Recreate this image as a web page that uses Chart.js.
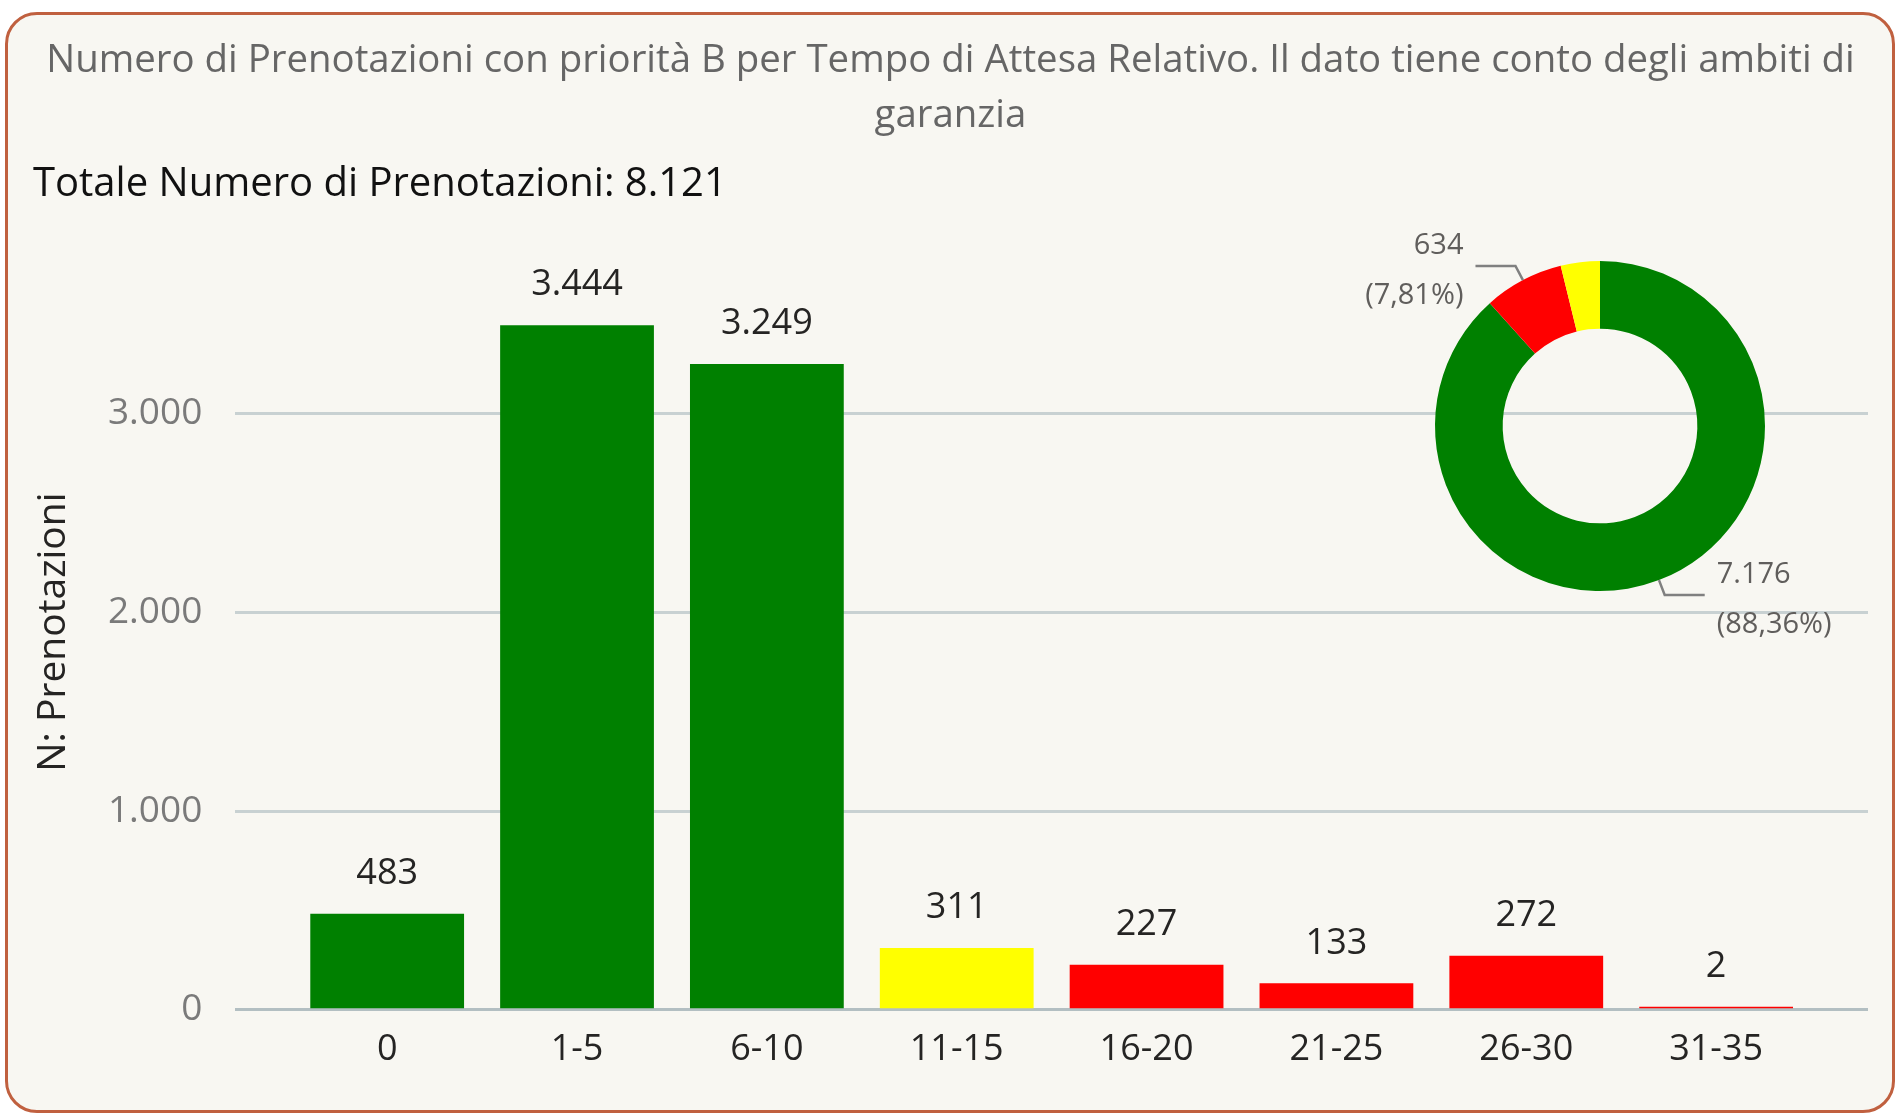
<!DOCTYPE html>
<html><head><meta charset="utf-8">
<script src="https://cdn.jsdelivr.net/npm/chart.js@4/dist/chart.umd.min.js"></script>
<style>
html,body{margin:0;padding:0;background:#fff;width:1901px;height:1113px;overflow:hidden}
#card{position:absolute;left:5px;top:12px;width:1884px;height:1095px;border:3px solid #c0603f;border-radius:32px;background:#f8f7f2;}
#bar{position:absolute;left:0;top:0;}
#donut{position:absolute;left:1335px;top:190px;}
</style></head><body>
<div id="card"></div>
<canvas id="bar" width="1901" height="1113"></canvas>
<canvas id="donut" width="530" height="470"></canvas>
<script>
// ---- data ----
const categories = ['0','1-5','6-10','11-15','16-20','21-25','26-30','31-35'];
const values = [483, 3444, 3249, 311, 227, 133, 272, 2];
const yTicks = [0, 1000, 2000, 3000];
const donutValues = [7176, 634, 311];
const donutShowLabel = [true, true, false];
const titleLines = ['Numero di Prenotazioni con priorità B per Tempo di Attesa Relativo. Il dato tiene conto degli ambiti di', 'garanzia'];
const yTitle = 'N: Prenotazioni';

// ---- styles ----
const GREEN = '#008000', YELLOW = '#ffff00', RED = '#ff0000';
const barColors = [GREEN, GREEN, GREEN, YELLOW, RED, RED, RED, RED];
const donutColors = [GREEN, RED, YELLOW];
const FONT = '"Segoe UI", "Open Sans", sans-serif';

function fmt(n){ return String(n).replace(/\B(?=(\d{3})+(?!\d))/g, '.'); }
const total = values.reduce((a,b)=>a+b,0);

const barLabels = {
  id:'barLabels',
  afterDatasetsDraw(chart){
    const ctx = chart.ctx, meta = chart.getDatasetMeta(0);
    ctx.save();
    ctx.font = '36px ' + FONT;
    ctx.fillStyle = '#252423';
    ctx.textAlign = 'center';
    ctx.textBaseline = 'middle';
    meta.data.forEach((el,i)=>{ ctx.fillText(fmt(values[i]), el.x, el.y - 40); });
    ctx.restore();
  }
};

new Chart(document.getElementById('bar'), {
  type: 'bar',
  data: {
    datasets: [{
      data: values.map((v,i)=>({x:i, y:v})),
      backgroundColor: barColors,
      borderWidth: 0,
      barPercentage: 0.81,
      categoryPercentage: 1.0,
      minBarLength: 3
    }]
  },
  options: {
    responsive: false,
    animation: false,
    layout: { padding: { left: 33, right: 33, top: 0, bottom: 32 } },
    plugins: {
      legend: { display: false },
      tooltip: { enabled: false },
      title: {
        display: true, text: titleLines, color: '#666666',
        font: { family: FONT, size: 38.4, weight: 'normal', lineHeight: 1.45 },
        padding: { top: 33, bottom: 12 }
      },
      subtitle: {
        display: true, text: 'Totale Numero di Prenotazioni: ' + fmt(total), align: 'start',
        color: '#111111',
        font: { family: FONT, size: 40, weight: 'normal', lineHeight: 1.4 },
        padding: { top: 0, bottom: 42 }
      }
    },
    scales: {
      x: {
        type: 'linear', min: -0.8, max: 7.8, offset: false,
        grid: { display: false }, border: { display: false },
        afterBuildTicks: a => { a.ticks = categories.map((_,i)=>({value:i})); },
        ticks: { autoSkip: false, callback: v => categories[v] ?? '', color: '#252423',
                 font: { family: FONT, size: 36 }, padding: 10, maxRotation: 0 }
      },
      y: {
        min: 0, max: 3800,
        afterBuildTicks: a => { a.ticks = yTicks.map(v=>({value:v})); },
        grid: { color: c => c.tick && c.tick.value === 0 ? '#b3bfc2' : '#c8d1d2', lineWidth: 3, drawTicks: false },
        border: { display: false },
        ticks: { callback: v => fmt(v), color: '#7a7a7a', font: { family: FONT, size: 37 }, padding: 33 },
        title: { display: true, text: yTitle, color: '#252423', font: { family: FONT, size: 39, lineHeight: 1.05 }, padding: { top: 0, bottom: 1 } }
      }
    }
  },
  plugins: [barLabels]
});

const donutLabels = {
  id:'donutLabels',
  afterDatasetsDraw(chart){
    const ctx = chart.ctx, meta = chart.getDatasetMeta(0);
    ctx.save();
    ctx.font = '29px ' + FONT;
    ctx.fillStyle = '#605e5c';
    ctx.strokeStyle = '#808080';
    ctx.lineWidth = 2.5;
    ctx.textBaseline = 'middle';
    meta.data.forEach((arc,i)=>{
      if(!donutShowLabel[i]) return;
      const mid = (arc.startAngle + arc.endAngle)/2;
      const r = arc.outerRadius;
      const sx = arc.x + Math.cos(mid)*r, sy = arc.y + Math.sin(mid)*r;
      const ex = arc.x + Math.cos(mid)*(r+16), ey = arc.y + Math.sin(mid)*(r+16);
      const dir = Math.cos(mid) >= 0 ? 1 : -1;
      const hx = ex + dir*40;
      ctx.beginPath(); ctx.moveTo(sx,sy); ctx.lineTo(ex,ey); ctx.lineTo(hx,ey); ctx.stroke();
      const pct = (donutValues[i]/total*100).toFixed(2).replace('.', ',') + '%';
      ctx.textAlign = dir > 0 ? 'left' : 'right';
      const tx = hx + dir*12;
      ctx.fillText(fmt(donutValues[i]), tx, ey - 20);
      ctx.fillText('(' + pct + ')', tx, ey + 30);
    });
    ctx.restore();
  }
};

new Chart(document.getElementById('donut'), {
  type: 'doughnut',
  data: { datasets: [{ data: donutValues, backgroundColor: donutColors, borderWidth: 0 }] },
  options: {
    responsive: false, animation: false, cutout: '59%',
    layout: { padding: { left: 100, right: 100, top: 71, bottom: 69 } },
    plugins: { legend: { display: false }, tooltip: { enabled: false } }
  },
  plugins: [donutLabels]
});
</script>
</body></html>
